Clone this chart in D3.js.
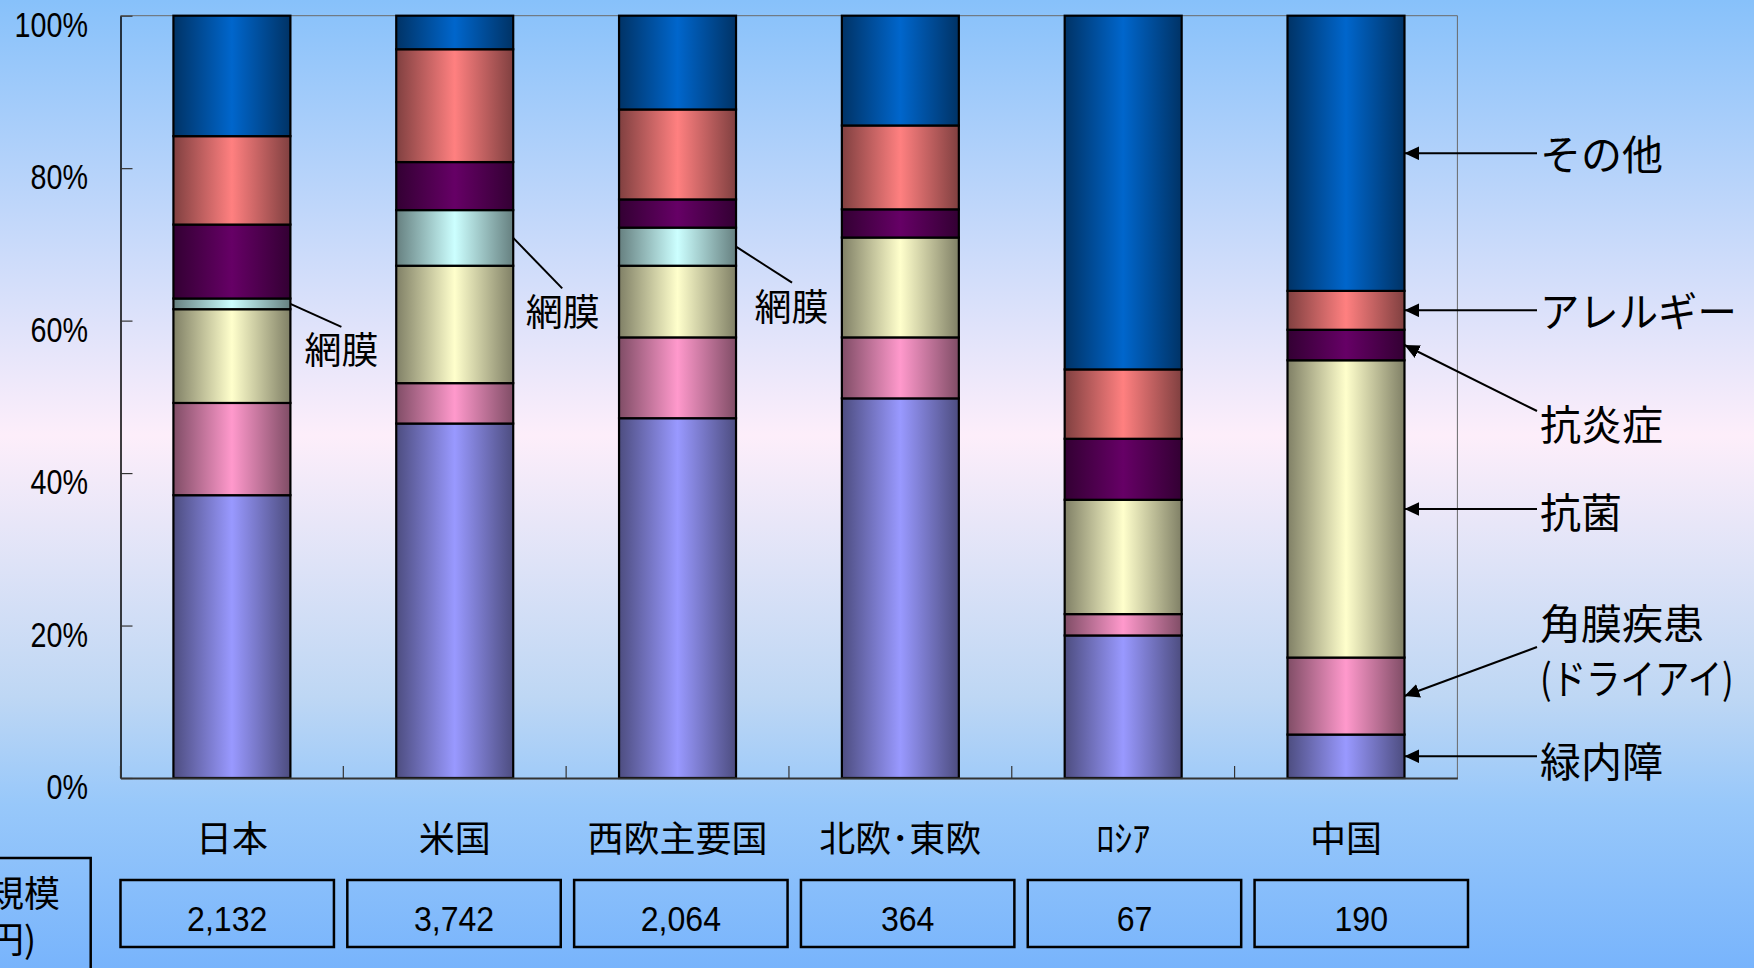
<!DOCTYPE html>
<html>
<head>
<meta charset="utf-8">
<script src="https://cdn.jsdelivr.net/npm/d3@7"></script>
<style>
  html, body { margin: 0; padding: 0; overflow: hidden; }
  svg { display: block; }
</style>
</head>
<body>
<svg id="chart" width="1754" height="968"></svg>
<script>
// Ophthalmic drug market share by therapeutic area and region (%)
const categories = ["日本", "米国", "西欧主要国", "北欧･東欧", "ﾛｼｱ", "中国"];
const seriesNames = ["緑内障", "角膜疾患", "抗菌", "網膜", "抗炎症", "アレルギー", "その他"];
const glaucoma         = [37.1, 46.5, 47.2, 49.8, 18.7,  5.7];
const cornea           = [12.1,  5.3, 10.6,  8.0,  2.8, 10.1];
const antibacterial    = [12.3, 15.4,  9.4, 13.1, 15.0, 39.0];
const retina           = [ 1.4,  7.3,  5.0,  0.0,  0.0,  0.0];
const antiInflammatory = [ 9.7,  6.3,  3.7,  3.7,  8.0,  4.0];
const allergy          = [11.6, 14.8, 11.8, 11.0,  9.1,  5.1];
const other            = [15.8,  4.4, 12.3, 14.4, 46.4, 36.1];
// market size (億円)
const marketSize = [2132, 3742, 2064, 364, 67, 190];
const yTicks = [0, 20, 40, 60, 80, 100];
const tableHeader = ["市場規模", "(億円)"];

const seriesValues = [glaucoma, cornea, antibacterial, retina, antiInflammatory, allergy, other];
const seriesColors = ["#9999ff", "#ff99cc", "#ffffcc", "#ccffff", "#660066", "#ff8080", "#0066cc"];

const rows = categories.map((c, i) => {
  const r = { category: c };
  seriesNames.forEach((s, k) => { r[s] = seriesValues[k][i]; });
  return r;
});
const layers = d3.stack().keys(seriesNames)(rows);

const svg = d3.select("#chart");
const W = 1754, H = 968;
const defs = svg.append("defs");

// slide background
const bg = defs.append("linearGradient").attr("id", "bg")
  .attr("x1", 0).attr("y1", 0).attr("x2", 0).attr("y2", 1);
[[0, "#87c1fa"], [0.45, "#fdeefa"], [0.72, "#bed7f4"], [0.83, "#98c8fa"], [1, "#78b4fc"]]
  .forEach(([o, c]) => bg.append("stop").attr("offset", o).attr("stop-color", c));
svg.append("rect").attr("width", W).attr("height", H).attr("fill", "url(#bg)");

// cylinder-like shading for each series
seriesColors.forEach((c, i) => {
  const g = defs.append("linearGradient").attr("id", "sg" + i)
    .attr("x1", 0).attr("y1", 0).attr("x2", 1).attr("y2", 0);
  const dark = d3.interpolateRgb(c, "#000")(0.5);
  g.append("stop").attr("offset", 0).attr("stop-color", dark);
  g.append("stop").attr("offset", 0.5).attr("stop-color", c);
  g.append("stop").attr("offset", 1).attr("stop-color", dark);
});

defs.append("marker").attr("id", "arrow")
  .attr("viewBox", "0 0 15 14").attr("refX", 15).attr("refY", 7)
  .attr("markerWidth", 15).attr("markerHeight", 14)
  .attr("markerUnits", "userSpaceOnUse").attr("orient", "auto")
  .append("path").attr("d", "M0,0L15,7L0,14Z").attr("fill", "#000");

const plotL = 120.5, plotR = 1457.4, plotT = 15.7, plotB = 778;
const x = d3.scaleBand().domain(categories).range([plotL, plotR])
  .paddingInner(0.475).paddingOuter(0.2375);
const y = d3.scaleLinear().domain([0, 100]).range([plotB, plotT]);

const cjk = "'Noto Sans CJK JP', 'Noto Sans CJK SC', sans-serif";
const latin = "'Liberation Sans', Arial, sans-serif";

// plot frame (top / right)
svg.append("path")
  .attr("d", `M${plotL},${plotT}H${plotR}V${plotB}`)
  .attr("fill", "none").attr("stroke", "#6a6a6a").attr("stroke-width", 1);

// stacked bars
const barG = svg.append("g");
layers.forEach((layer, i) => {
  barG.append("g").attr("fill", `url(#sg${i})`)
    .selectAll("rect")
    .data(layer.filter(d => d[1] - d[0] > 0))
    .join("rect")
    .attr("x", d => x(d.data.category))
    .attr("y", d => y(d[1]))
    .attr("width", x.bandwidth())
    .attr("height", d => y(d[0]) - y(d[1]))
    .attr("stroke", "#000")
    .attr("stroke-width", 2.2);
});

// y axis
const yAxis = svg.append("g").attr("transform", `translate(${plotL},0)`)
  .call(d3.axisLeft(y).tickValues(yTicks).tickSize(-12).tickSizeOuter(0).tickFormat(d => d + "%"));
yAxis.select(".domain").attr("stroke", "#000").attr("stroke-width", 1.5);
yAxis.selectAll(".tick line").attr("stroke", "#333").attr("stroke-width", 1.2);
yAxis.selectAll(".tick text")
  .attr("x", null).attr("dy", null)
  .attr("transform", "translate(-32.5,20.5) scale(0.82,1)")
  .attr("font-family", latin).attr("font-size", 35).attr("fill", "#000")
  .attr("text-anchor", "end");

// x axis line and category separators
const xAxis = svg.append("g").attr("transform", `translate(0,${plotB})`)
  .call(d3.axisBottom(x).tickSize(0).tickSizeOuter(0).tickFormat(""));
xAxis.select(".domain").attr("stroke", "#333").attr("stroke-width", 2);
xAxis.selectAll(".tick").remove();
const bounds = d3.range(categories.length).map(i => x.range()[0] + i * x.step());
svg.append("g").selectAll("line").data(bounds).join("line")
  .attr("x1", d => d).attr("x2", d => d)
  .attr("y1", plotB).attr("y2", plotB - 12)
  .attr("stroke", "#333").attr("stroke-width", 1.2);

// category labels
svg.append("g").selectAll("text").data(categories).join("text")
  .attr("x", d => x(d) + x.bandwidth() / 2)
  .attr("y", 852)
  .attr("text-anchor", "middle")
  .attr("font-family", cjk).attr("font-size", 36).attr("fill", "#000")
  .text(d => d);

// market size table
const xt = d3.scaleBand().domain(categories).range([120.5, 1468]).paddingInner(0.059).paddingOuter(0);
const fmt = d3.format(",");
const table = svg.append("g");
table.selectAll("rect").data(categories).join("rect")
  .attr("x", d => xt(d)).attr("y", 880)
  .attr("width", xt.bandwidth()).attr("height", 67)
  .attr("fill", "none").attr("stroke", "#000").attr("stroke-width", 2.5);
table.selectAll("text").data(marketSize).join("text")
  .attr("transform", (d, i) => `translate(${xt(categories[i]) + xt.bandwidth() / 2},931) scale(0.93,1)`)
  .attr("text-anchor", "middle")
  .attr("font-family", latin).attr("font-size", 34.5).attr("fill", "#000")
  .text(d => fmt(d));

// table header cell (partly beyond the left edge)
svg.append("rect").attr("x", -120).attr("y", 858).attr("width", 210.7).attr("height", 200)
  .attr("fill", "none").attr("stroke", "#000").attr("stroke-width", 2.5);
svg.append("g").selectAll("text").data(tableHeader).join("text")
  .attr("x", -12).attr("y", (d, i) => 907 + i * 46)
  .attr("text-anchor", "middle")
  .attr("font-family", cjk).attr("font-size", 36).attr("fill", "#000")
  .text(d => d);

// 網膜 callouts on bars that contain it
const retinaIdx = seriesNames.indexOf("網膜");
const retinaOffsets = [
  { lx: 51, ly: 23, tx: 14, ty: 60 },
  { lx: 49, ly: 50.5, tx: 12.5, ty: 88 },
  { lx: 56, ly: 36, tx: 18.5, ty: 74.5 }
];
const retinaSegs = layers[retinaIdx].filter(d => d[1] - d[0] > 0);
const retG = svg.append("g");
retinaSegs.forEach((d, i) => {
  const o = retinaOffsets[i];
  const ex = x(d.data.category) + x.bandwidth();
  const my = y((d[0] + d[1]) / 2);
  retG.append("line").attr("x1", ex).attr("y1", my)
    .attr("x2", ex + o.lx).attr("y2", my + o.ly)
    .attr("stroke", "#000").attr("stroke-width", 2);
  retG.append("text").attr("x", ex + o.tx).attr("y", my + o.ty)
    .attr("font-family", cjk).attr("font-size", 37).attr("fill", "#000")
    .text("網膜");
});

// series callouts pointing at the last bar
const lastIdx = categories.length - 1;
const lastEdge = x(categories[lastIdx]) + x.bandwidth();
const callouts = [
  { name: "その他", lines: ["その他"], base: 170 },
  { name: "アレルギー", lines: ["アレルギー"], base: 327, sx: 0.96 },
  { name: "抗炎症", lines: ["抗炎症"], base: 440, startY: 411 },
  { name: "抗菌", lines: ["抗菌"], base: 528 },
  { name: "角膜疾患", lines: ["角膜疾患", "(ドライアイ)"], base: 639, startY: 647, sx2: 0.84 },
  { name: "緑内障", lines: ["緑内障"], base: 777 }
];
const callG = svg.append("g");
callouts.forEach(c => {
  const seg = layers[seriesNames.indexOf(c.name)][lastIdx];
  const ty = y((seg[0] + seg[1]) / 2);
  const sy = c.startY !== undefined ? c.startY : ty;
  callG.append("line")
    .attr("x1", 1537).attr("y1", sy)
    .attr("x2", lastEdge).attr("y2", ty)
    .attr("stroke", "#000").attr("stroke-width", 2)
    .attr("marker-end", "url(#arrow)");
  c.lines.forEach((t, j) => {
    const sx = j === 0 ? (c.sx || 1) : (c.sx2 || 1);
    callG.append("text")
      .attr("transform", `translate(1540,${c.base + j * 55}) scale(${sx},1)`)
      .attr("font-family", cjk).attr("font-size", 41).attr("fill", "#000")
      .text(t);
  });
});
</script>
</body>
</html>
